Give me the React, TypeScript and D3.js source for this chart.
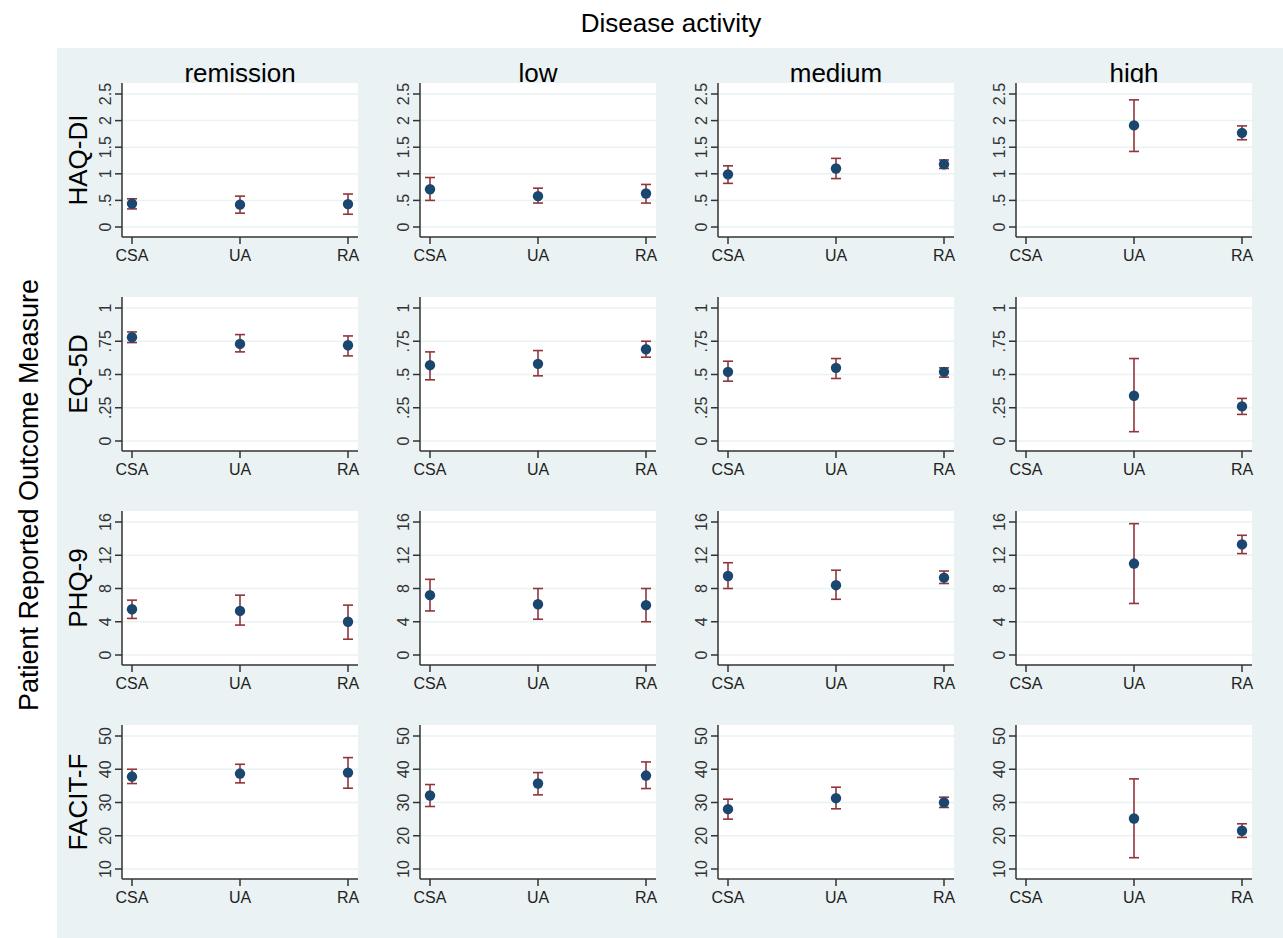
import React from 'react';
import * as d3 from 'd3';

// disease activity columns, diagnosis groups on x, outcome measures by row
const activities = ['remission', 'low', 'medium', 'high'];
const groups = ['CSA', 'UA', 'RA'];
const measures = ['HAQ-DI', 'EQ-5D', 'PHQ-9', 'FACIT-F'];

type V = number | null;

// [activity][group]
const haqMean: V[][] = [[0.44, 0.42, 0.43], [0.71, 0.58, 0.63], [0.99, 1.10, 1.18], [null, 1.91, 1.77]];
const haqLo: V[][] = [[0.34, 0.26, 0.24], [0.50, 0.45, 0.45], [0.82, 0.91, 1.10], [null, 1.42, 1.64]];
const haqHi: V[][] = [[0.53, 0.58, 0.62], [0.93, 0.73, 0.80], [1.15, 1.29, 1.26], [null, 2.39, 1.90]];

const eqMean: V[][] = [[0.78, 0.73, 0.72], [0.57, 0.58, 0.69], [0.52, 0.55, 0.52], [null, 0.34, 0.26]];
const eqLo: V[][] = [[0.74, 0.67, 0.64], [0.46, 0.49, 0.63], [0.45, 0.47, 0.48], [null, 0.07, 0.20]];
const eqHi: V[][] = [[0.82, 0.80, 0.79], [0.67, 0.68, 0.75], [0.60, 0.62, 0.55], [null, 0.62, 0.32]];

const phqMean: V[][] = [[5.5, 5.3, 4.0], [7.2, 6.1, 6.0], [9.5, 8.4, 9.3], [null, 11.0, 13.3]];
const phqLo: V[][] = [[4.4, 3.6, 1.9], [5.3, 4.3, 4.0], [8.0, 6.7, 8.6], [null, 6.2, 12.2]];
const phqHi: V[][] = [[6.6, 7.2, 6.0], [9.1, 8.0, 8.0], [11.1, 10.2, 10.1], [null, 15.8, 14.4]];

const facitMean: V[][] = [[37.8, 38.7, 39.0], [32.1, 35.7, 38.1], [28.0, 31.3, 30.0], [null, 25.2, 21.5]];
const facitLo: V[][] = [[35.7, 35.9, 34.3], [28.8, 32.3, 34.2], [25.0, 28.1, 28.5], [null, 13.4, 19.5]];
const facitHi: V[][] = [[40.0, 41.5, 43.5], [35.4, 39.0, 42.2], [31.0, 34.6, 31.6], [null, 37.1, 23.6]];

const haqTicks = [0, 0.5, 1, 1.5, 2, 2.5];
const eqTicks = [0, 0.25, 0.5, 0.75, 1];
const phqTicks = [0, 4, 8, 12, 16];
const facitTicks = [10, 20, 30, 40, 50];

const fmtTick = (v: number) => (v > 0 && v < 1 ? String(v).replace(/^0/, '') : String(v));

const rows = [
  { mean: haqMean, lo: haqLo, hi: haqHi, ticks: haqTicks },
  { mean: eqMean, lo: eqLo, hi: eqHi, ticks: eqTicks },
  { mean: phqMean, lo: phqLo, hi: phqHi, ticks: phqTicks },
  { mean: facitMean, lo: facitLo, hi: facitHi, ticks: facitTicks },
];

const W = 1283;
const H = 938;
const BG = '#eaf2f3';
const NAVY = '#1a476f';
const MAROON = '#90353b';
const AXIS = '#333';
const FONT = '"Liberation Sans", Arial, sans-serif';

const panelLeft = 122;
const panelTop = 83;
const colStep = 298;
const rowStep = 214;
const pw = 236;
const ph = 154;

export default function App() {
  return (
    <svg width={W} height={H} style={{ position: 'absolute', left: 0, top: 0 }} fontFamily={FONT}>
      <rect x={0} y={0} width={W} height={H} fill="#fff" />
      <rect x={57} y={48} width={W - 57} height={H - 48} fill={BG} />

      <text x={671} y={32} textAnchor="middle" fontSize={26} fill="#000">Disease activity</text>
      <text transform={`translate(38,495) rotate(-90)`} textAnchor="middle" fontSize={27} fill="#000">
        Patient Reported Outcome Measure
      </text>

      {activities.map((act, ci) => {
        const cx = panelLeft + ci * colStep + pw / 2;
        return (
          <text key={act} x={cx} y={panelTop - 1} textAnchor="middle" fontSize={26} fill="#000">{act}</text>
        );
      })}

      {rows.map((row, ri) => {
        const top = panelTop + ri * rowStep;
        const y = d3.scaleLinear()
          .domain([row.ticks[0], row.ticks[row.ticks.length - 1]])
          .range([top + 144, top + 11]);
        return activities.map((act, ci) => {
          const left = panelLeft + ci * colStep;
          const x = d3.scalePoint<string>().domain(groups).range([left + 10, left + 226]);
          return (
            <g key={`${ri}-${ci}`}>
              <rect x={left} y={top} width={pw} height={ph} fill="#fff" />
              {row.ticks.map(t => (
                <line key={t} x1={left} x2={left + pw} y1={y(t)} y2={y(t)} stroke={BG} strokeWidth={1.5} />
              ))}
              {ci === 0 && (
                <text transform={`translate(${left - 35},${top + ph / 2}) rotate(-90)`} textAnchor="middle"
                  fontSize={26} fill="#000">{measures[ri]}</text>
              )}
              {/* y axis */}
              <line x1={left} x2={left} y1={top} y2={top + ph} stroke={AXIS} strokeWidth={1.5} />
              {row.ticks.map(t => (
                <g key={t}>
                  <line x1={left - 7} x2={left} y1={y(t)} y2={y(t)} stroke={AXIS} strokeWidth={1.5} />
                  <text transform={`translate(${left - 11},${y(t)}) rotate(-90)`} textAnchor="middle"
                    fontSize={16} fill={AXIS}>{fmtTick(t)}</text>
                </g>
              ))}
              {/* x axis */}
              <line x1={left} x2={left + pw} y1={top + ph} y2={top + ph} stroke={AXIS} strokeWidth={1.5} />
              {groups.map(g => (
                <g key={g}>
                  <line x1={x(g)} x2={x(g)} y1={top + ph} y2={top + ph + 7} stroke={AXIS} strokeWidth={1.5} />
                  <text x={x(g)} y={top + ph + 24} textAnchor="middle" fontSize={16} fill="#222">{g}</text>
                </g>
              ))}
              {/* estimates with CI */}
              {groups.map((g, gi) => {
                const m = row.mean[ci][gi];
                const lo = row.lo[ci][gi];
                const hi = row.hi[ci][gi];
                if (m == null || lo == null || hi == null) return null;
                const px = x(g) as number;
                return (
                  <g key={g}>
                    <line x1={px} x2={px} y1={y(lo)} y2={y(hi)} stroke={MAROON} strokeWidth={1.6} />
                    <line x1={px - 5} x2={px + 5} y1={y(lo)} y2={y(lo)} stroke={MAROON} strokeWidth={1.6} />
                    <line x1={px - 5} x2={px + 5} y1={y(hi)} y2={y(hi)} stroke={MAROON} strokeWidth={1.6} />
                    <circle cx={px} cy={y(m)} r={5.2} fill={NAVY} />
                  </g>
                );
              })}
            </g>
          );
        });
      })}
    </svg>
  );
}
